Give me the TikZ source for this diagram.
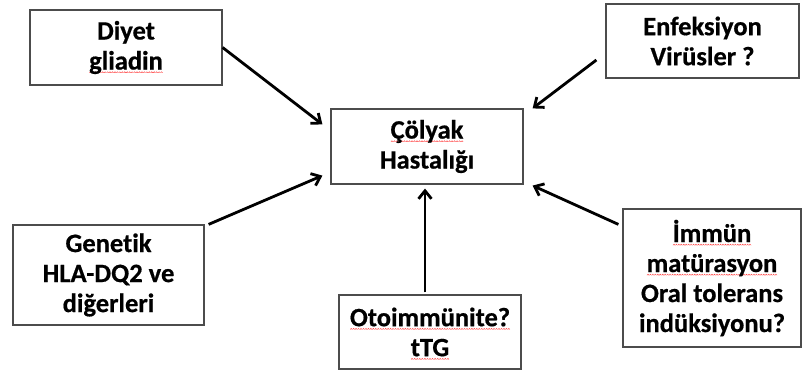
\documentclass[tikz,border=0pt]{standalone}
\usepackage{fontspec}
\setmainfont{Carlito}[Ligatures=NoCommon,BoldFeatures={FakeBold=0.6}]
\usetikzlibrary{arrows.meta,calc}
% red wavy spelling mark under a word, built from a repeated zigzag piece
\newsavebox\wavepiece
\newsavebox\wordbox
\newcommand\spellmark[1]{\sbox\wordbox{#1}\leavevmode
  \rlap{\raisebox{-3.5pt}[0pt][0pt]{\hbox to\wd\wordbox{\xleaders\copy\wavepiece\hfill}}}\usebox\wordbox}

\begin{document}
\sbox\wavepiece{\begin{pgfpicture}\pgfsetlinewidth{0.45pt}\pgfsetstrokecolor{red!75}%
  \pgfpathmoveto{\pgfpoint{0pt}{0pt}}\pgfpathlineto{\pgfpoint{1pt}{1.1pt}}%
  \pgfpathlineto{\pgfpoint{2pt}{0pt}}\pgfusepath{stroke}\end{pgfpicture}}%
\begin{tikzpicture}[x=1pt,y=-1pt,
  box/.style={draw=black!70,line width=1.2pt,fill=white,align=center,inner sep=0pt,
    font=\fontsize{26.5}{30}\selectfont\bfseries},
  link/.style={line width=2.8pt,-{Straight Barb[length=8pt,width=13pt]}}]
\fill[white] (0,0) rectangle (805,374);
\useasboundingbox (0,0) rectangle (805,374);

\node[box,minimum width=192pt,minimum height=75pt] (diyet) at (126,47.5)
  {Diyet\\\spellmark{gliadin}};
\node[box,minimum width=193pt,minimum height=74pt] (enf) at (702.5,41)
  {Enfeksiyon\\Virüsler ?};
\node[box,minimum width=192pt,minimum height=75pt] (colyak) at (427,146.5)
  {\spellmark{Çölyak}\\Hastalığı};
\node[box,minimum width=191pt,minimum height=100pt] (genetik) at (108.5,275)
  {Genetik\\HLA-DQ2 ve\\diğerleri};
\node[box,minimum width=182pt,minimum height=74pt] (oto) at (430,332)
  {\spellmark{Otoimmünite?}\\\spellmark{tTG}};
\node[box,minimum width=178pt,minimum height=138pt] (immun) at (712,278)
  {\spellmark{İmmün}\\\spellmark{matürasyon}\\Oral tolerans\\indüksiyonu?};

\draw[link] (diyet.east) -- ($(colyak.north west)+(-8,16)$);
\draw[link] ($(enf.west)+(-9,19)$) -- ($(colyak.north east)+(9,0)$);
\draw[link] ($(genetik.north east)+(4,0)$) -- ($(colyak.south west)+(-8,-9)$);
\draw[link] ($(immun.north west)+(-4,16)$) -- ($(colyak.south east)+(9,1)$);
\draw[link] ($(oto.north)+(-5,-2)$) -- ($(colyak.south)+(-2,4)$);
\end{tikzpicture}
\end{document}
